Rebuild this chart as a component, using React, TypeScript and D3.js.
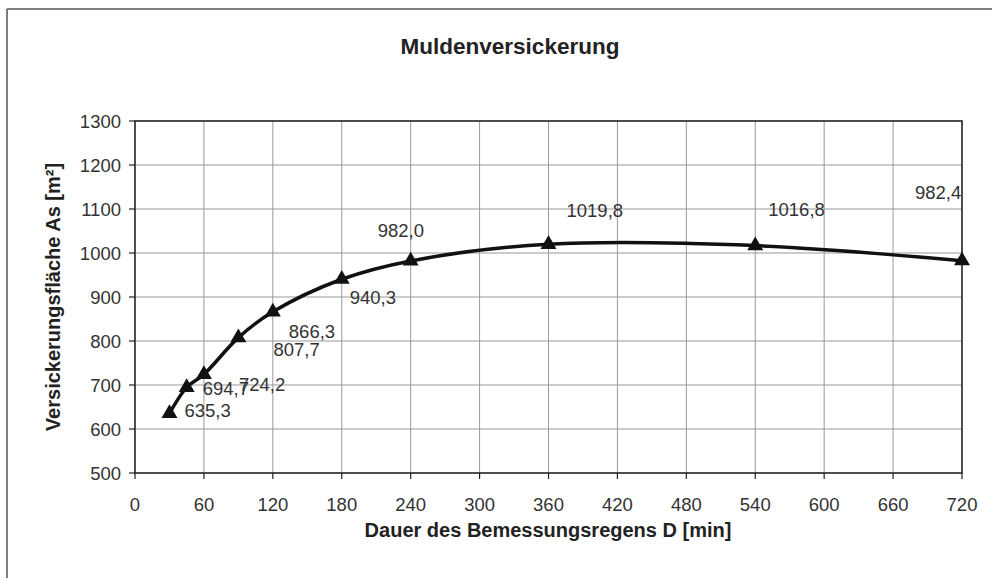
import React from "react";
import * as d3 from "d3";

const durations = [30, 45, 60, 90, 120, 180, 240, 360, 540, 720];
const areas = [635.3, 694.7, 724.2, 807.7, 866.3, 940.3, 982.0, 1019.8, 1016.8, 982.4];
const xTicks = [0, 60, 120, 180, 240, 300, 360, 420, 480, 540, 600, 660, 720];
const yTicks = [500, 600, 700, 800, 900, 1000, 1100, 1200, 1300];
const labelOffsets: [number, number][] = [
  [15, 4], [16, 8], [35, 17], [35, 18], [16, 26], [8, 25], [-33, -24], [18, -27], [13, -30], [-47, -62],
];

const title = "Muldenversickerung";
const xTitle = "Dauer des Bemessungsregens D [min]";
const yTitle = "Versickerungsfläche As [m²]";

export default function App() {
  const W = 995, H = 578;
  const left = 135, right = 962, top = 121, bottom = 473;
  const x = d3.scaleLinear().domain([0, 720]).range([left, right]);
  const y = d3.scaleLinear().domain([500, 1300]).range([bottom, top]);
  const pts: [number, number][] = durations.map((d, i) => [x(d), y(areas[i])]);
  const line = d3.line().curve(d3.curveCatmullRom.alpha(0.5))(pts) || "";
  const tri = d3.symbol().type(d3.symbolTriangle).size(110)() || "";
  const fmt = (v: number) => d3.format(".1f")(v).replace(".", ",");
  const font = "'Liberation Sans', Arial, sans-serif";

  return (
    <svg width={W} height={H} style={{ position: "absolute", left: 0, top: 0, background: "#fff" }} fontFamily={font}>
      <rect x={0} y={0} width={W} height={H} fill="#fff" />
      {/* outer frame */}
      <line x1={7} y1={9} x2={992} y2={9} stroke="#555" strokeWidth={1.5} />
      <line x1={7} y1={9} x2={7} y2={H} stroke="#555" strokeWidth={1.5} />

      <text x={510} y={54} textAnchor="middle" fontSize={22.5} fontWeight="bold" fill="#222">{title}</text>

      {/* grid */}
      {xTicks.slice(1, -1).map((t) => (
        <line key={"gx" + t} x1={x(t)} x2={x(t)} y1={top} y2={bottom} stroke="#999" strokeWidth={1} />
      ))}
      {yTicks.slice(1, -1).map((t) => (
        <line key={"gy" + t} x1={left} x2={right} y1={y(t)} y2={y(t)} stroke="#999" strokeWidth={1} />
      ))}
      {/* plot frame */}
      <rect x={left} y={top} width={right - left} height={bottom - top} fill="none" stroke="#222" strokeWidth={1.6} />

      {/* ticks */}
      {yTicks.map((t) => (
        <g key={"ty" + t}>
          <line x1={left - 6} x2={left} y1={y(t)} y2={y(t)} stroke="#222" strokeWidth={1.2} />
          <text x={121} y={y(t) + 6.5} textAnchor="end" fontSize={18.5} fill="#333">{t}</text>
        </g>
      ))}
      {xTicks.map((t) => (
        <g key={"tx" + t}>
          <line x1={x(t)} x2={x(t)} y1={bottom} y2={bottom + 6} stroke="#222" strokeWidth={1.2} />
          <text x={x(t)} y={511} textAnchor="middle" fontSize={18.5} fill="#333">{t}</text>
        </g>
      ))}

      <text x={548} y={537} textAnchor="middle" fontSize={20} fontWeight="bold" fill="#222">{xTitle}</text>
      <text transform={`translate(60,${(top + bottom) / 2}) rotate(-90)`} textAnchor="middle" fontSize={20} fontWeight="bold" fill="#222">{yTitle}</text>

      {/* series */}
      <path d={line} fill="none" stroke="#111" strokeWidth={3.5} strokeLinejoin="round" />
      {pts.map(([px, py], i) => (
        <path key={"m" + i} d={tri} transform={`translate(${px},${py})`} fill="#111" />
      ))}
      {pts.map(([px, py], i) => (
        <text key={"l" + i} x={px + labelOffsets[i][0]} y={py + labelOffsets[i][1]} fontSize={18.5} fill="#333">{fmt(areas[i])}</text>
      ))}
    </svg>
  );
}
